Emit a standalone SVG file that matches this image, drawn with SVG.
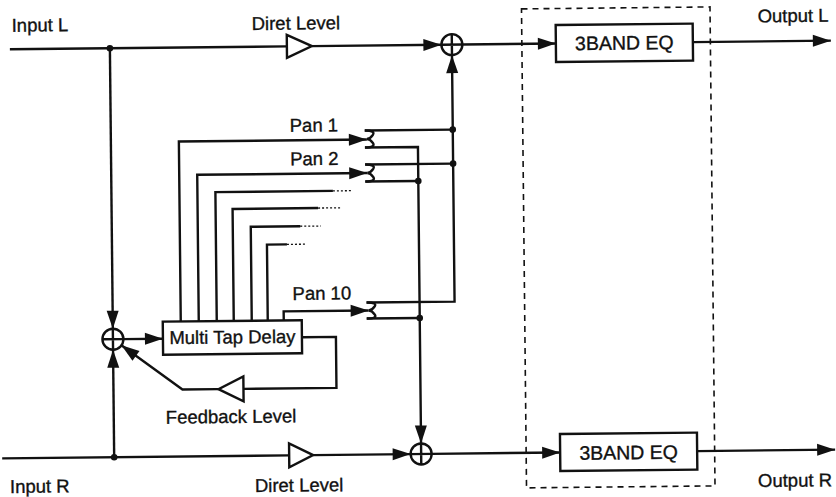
<svg xmlns="http://www.w3.org/2000/svg" width="836" height="497" viewBox="0 0 836 497">
<defs>
<marker id="ah" markerUnits="userSpaceOnUse" markerWidth="18" markerHeight="12" refX="18" refY="6" orient="auto" overflow="visible">
<path d="M0,0 L18,6 L0,12 z" fill="#111"/>
</marker>
<style>
.ln{fill:none;stroke:#111;stroke-width:2.4}
.dot{fill:none;stroke:#111;stroke-width:1.3;stroke-dasharray:2 2}
.arr{marker-end:url(#ah)}
.box{fill:#fff;stroke:#111;stroke-width:2.4}
.amp{fill:#fff;stroke:#111;stroke-width:2.4;stroke-linejoin:miter}
.jn{fill:#111}
.dash{fill:none;stroke:#111;stroke-width:1.6;stroke-dasharray:6 5}
text{font-family:"Liberation Sans",Arial,Helvetica,sans-serif;font-size:18.5px;fill:#111;stroke:#111;stroke-width:0.35}
.c{text-anchor:middle}
</style>
</defs>
<rect width="836" height="497" fill="#fff"/>
<g transform="rotate(-0.6 418 248)">
<g id="connectors">
<path class="ln" d="M12,45 H289"/>
<path class="ln arr" d="M314,45 H443.5"/>
<path class="ln arr" d="M464.5,45 H558"/>
<path class="ln arr" d="M695,45 H833"/>
<path class="ln" d="M0,454 H287"/>
<path class="ln arr" d="M311,454 H408.5"/>
<path class="ln arr" d="M429.5,454 H558"/>
<path class="ln arr" d="M695,454 H833"/>
<path class="ln arr" d="M112,45 V325.5"/>
<path class="ln arr" d="M112,454 V346.5"/>
<path class="ln arr" d="M122.5,336 H162"/>
<path class="ln" d="M301,336 H335 V387 H242"/>
<path class="ln arr" d="M217,387 H181 L120.4,342.2"/>
<path class="ln arr" d="M180,319 V139 H368"/>
<path class="ln arr" d="M198,319 V172.5 H368"/>
<path class="ln" d="M216,319 V190 H333.5"/>
<path class="dot" d="M333.5,190 H353.5"/>
<path class="ln" d="M233,319 V207 H318.5"/>
<path class="dot" d="M318.5,207 H340.5"/>
<path class="ln" d="M251,319 V225 H300.5"/>
<path class="dot" d="M300.5,225 H321"/>
<path class="ln" d="M267,319 V243 H287"/>
<path class="dot" d="M287,243 H307"/>
<path class="ln arr" d="M283,319 V310 H368"/>
<path class="ln" d="M366,130 H454"/>
<path class="ln" d="M366,164 H454"/>
<path class="ln arr" d="M366,302 H454 V55.5"/>
<path class="ln arr" d="M366,147 H419 V443.5"/>
<path class="ln" d="M366,181 H419"/>
<path class="ln" d="M366,318 H419"/>
<circle class="jn" cx="112" cy="45" r="3.3"/>
<circle class="jn" cx="112" cy="454" r="3.3"/>
<circle class="jn" cx="454" cy="130" r="3.3"/>
<circle class="jn" cx="454" cy="164" r="3.3"/>
<circle class="jn" cx="419" cy="181" r="3.3"/>
<circle class="jn" cx="419" cy="318" r="3.3"/>
</g>
<g id="pan1">
<path class="ln" d="M366,130 Q377,130 374,134.5 Q371,138.5 368,138.5 Q371,138.5 374,142.5 Q377,147 366,147"/>
<text x="291" y="130.5">Pan 1</text>
</g>
<g id="pan2">
<path class="ln" d="M366,164 Q377,164 374,168.5 Q371,172.5 368,172.5 Q371,172.5 374,176.5 Q377,181 366,181"/>
<text x="291" y="164">Pan 2</text>
</g>
<g id="pan10">
<path class="ln" d="M366,302 Q377,302 374,306 Q371,310 368,310 Q371,310 374,314 Q377,318 366,318"/>
<text x="292" y="298.7">Pan 10</text>
</g>
<g id="eq-box">
<rect class="dash" x="524" y="10" width="188.5" height="479"/>
</g>
<g id="input-l"><text x="14" y="27.5">Input L</text></g>
<g id="input-r"><text x="7.5" y="488.7">Input R</text></g>
<g id="output-l"><text x="760" y="26">Output L</text></g>
<g id="output-r"><text x="755.5" y="490.6">Output R</text></g>
<g id="direct-level-l">
<polygon class="amp" points="289,33.5 289,56.5 314,45"/>
<text x="254" y="28.3">Diret Level</text>
</g>
<g id="direct-level-r">
<polygon class="amp" points="287,442 287,466 311,454"/>
<text x="252.4" y="490.3">Diret Level</text>
</g>
<g id="adder-l">
<circle class="box" cx="454" cy="45" r="10.5"/>
<path class="ln" d="M443.5,45 H464.5 M454,34.5 V55.5"/>
</g>
<g id="adder-r">
<circle class="box" cx="419" cy="454" r="10.5"/>
<path class="ln" d="M408.5,454 H429.5 M419,443.5 V464.5"/>
</g>
<g id="adder-fb">
<circle class="box" cx="112" cy="336" r="10.5"/>
<path class="ln" d="M101.5,336 H122.5 M112,325.5 V346.5"/>
</g>
<g id="eq-l">
<rect class="box" x="558" y="26.5" width="137" height="37"/>
<text class="c" x="626.5" y="51.8" style="font-size:19.5px">3BAND EQ</text>
</g>
<g id="eq-r">
<rect class="box" x="558" y="435.5" width="137" height="37"/>
<text class="c" x="626.5" y="461.5" style="font-size:19.5px">3BAND EQ</text>
</g>
<g id="multi-tap-delay">
<rect class="box" x="162" y="319" width="139" height="33"/>
<text class="c" x="231.5" y="341.5">Multi Tap Delay</text>
</g>
<g id="feedback-level">
<polygon class="amp" points="242,374.5 242,399.5 217,387"/>
<text x="164" y="421">Feedback Level</text>
</g>
</g>
</svg>
